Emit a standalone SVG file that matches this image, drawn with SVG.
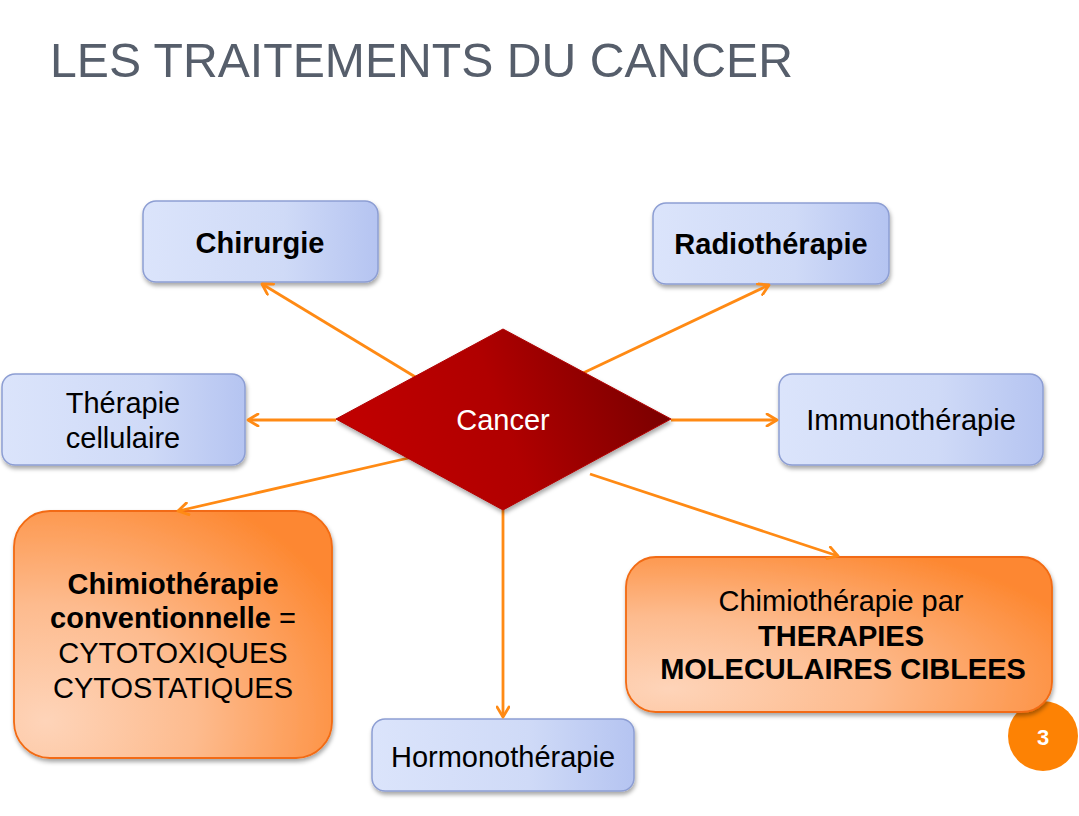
<svg xmlns="http://www.w3.org/2000/svg" width="1079" height="816" viewBox="0 0 1079 816">
  <defs>
    <linearGradient id="gBlue" x1="0" y1="0" x2="1" y2="0">
      <stop offset="0" stop-color="#dbe4fb"/>
      <stop offset="0.6" stop-color="#cfdaf7"/>
      <stop offset="1" stop-color="#b5c4f1"/>
    </linearGradient>
    <radialGradient id="gOrange" cx="0.1" cy="0.85" r="1.05">
      <stop offset="0" stop-color="#fed4b9"/>
      <stop offset="0.45" stop-color="#fdbb8e"/>
      <stop offset="1" stop-color="#fd8730"/>
    </radialGradient>
    <linearGradient id="gRed" x1="0" y1="0.6" x2="1" y2="0.4">
      <stop offset="0" stop-color="#c20000"/>
      <stop offset="0.5" stop-color="#b00000"/>
      <stop offset="1" stop-color="#780000"/>
    </linearGradient>
    <filter id="sh" x="-10%" y="-10%" width="125%" height="135%">
      <feDropShadow dx="1" dy="3" stdDeviation="2.2" flood-color="#000" flood-opacity="0.35"/>
    </filter>
    <marker id="arr" viewBox="0 0 14 14" refX="12" refY="7" markerWidth="14" markerHeight="14" markerUnits="userSpaceOnUse" orient="auto">
      <path d="M2,1 L12,7 L2,13" fill="none" stroke="#ff8a14" stroke-width="2.8" stroke-linecap="round" stroke-linejoin="round"/>
    </marker>
    <style>
      .blue { fill: url(#gBlue); stroke: #8d9ed3; stroke-width: 1.5; filter: url(#sh); }
      .orange { fill: url(#gOrange); stroke: #f26b12; stroke-width: 1.8; filter: url(#sh); }
      .t { font-family: "Liberation Sans", Arial, Helvetica, sans-serif; font-size: 29px; fill: #000; text-anchor: middle; }
      .b { font-weight: bold; }
      .conn line { stroke: #ff8a14; stroke-width: 2.8; marker-end: url(#arr); }
    </style>
  </defs>
  <rect width="1079" height="816" fill="#fff"/>

  <text x="50" y="77" font-family="'Liberation Sans', Arial, Helvetica, sans-serif" font-size="49" fill="#565e6b" textLength="743" lengthAdjust="spacingAndGlyphs">LES TRAITEMENTS DU CANCER</text>

  <g id="page-number">
    <circle cx="1043" cy="736" r="35" fill="#fd8204"/>
    <text x="1043" y="745" class="t b" style="font-size:22px; fill:#fff">3</text>
  </g>

  <g id="chirurgie">
    <rect class="blue" x="143" y="201" width="235" height="81" rx="13"/>
    <text class="t b" x="260" y="253">Chirurgie</text>
  </g>
  <g id="radiotherapie">
    <rect class="blue" x="653" y="203" width="236" height="81" rx="13"/>
    <text class="t b" x="771" y="254">Radiothérapie</text>
  </g>
  <g id="therapie-cellulaire">
    <rect class="blue" x="2" y="374" width="243" height="91" rx="13"/>
    <text class="t" x="123" y="413">Thérapie</text>
    <text class="t" x="123" y="448">cellulaire</text>
  </g>
  <g id="immunotherapie">
    <rect class="blue" x="779" y="374" width="264" height="91" rx="13"/>
    <text class="t" x="911" y="430">Immunothérapie</text>
  </g>
  <g id="hormonotherapie">
    <rect class="blue" x="372" y="719" width="262" height="72" rx="13"/>
    <text class="t" x="503" y="767">Hormonothérapie</text>
  </g>
  <g id="chimio-conventionnelle">
    <rect class="orange" x="14" y="511" width="318" height="247" rx="36"/>
    <text class="t b" x="173" y="594">Chimiothérapie</text>
    <text class="t" x="173" y="628"><tspan font-weight="bold">conventionnelle</tspan> =</text>
    <text class="t" x="173" y="663">CYTOTOXIQUES</text>
    <text class="t" x="173" y="698">CYTOSTATIQUES</text>
  </g>
  <g id="chimio-ciblee">
    <rect class="orange" x="626" y="557" width="426" height="155" rx="30"/>
    <text class="t" x="841" y="611">Chimiothérapie par</text>
    <text class="t b" x="841" y="646">THERAPIES</text>
    <text class="t b" x="843" y="679">MOLECULAIRES CIBLEES</text>
  </g>

  <g id="connectors" class="conn">
    <line x1="422" y1="381" x2="262" y2="284"/>
    <line x1="581" y1="374" x2="769" y2="285"/>
    <line x1="336" y1="420" x2="248" y2="420"/>
    <line x1="671" y1="420" x2="777" y2="420"/>
    <line x1="413" y1="457" x2="178" y2="511"/>
    <line x1="503" y1="510" x2="503" y2="717"/>
    <line x1="590" y1="474" x2="838" y2="556"/>
  </g>

  <g id="cancer">
    <polygon points="503,329 671,419 503,510 336,419" fill="url(#gRed)" stroke="#b00000" stroke-width="1" filter="url(#sh)"/>
    <text class="t" x="503" y="430" style="fill:#fff">Cancer</text>
  </g>
</svg>
